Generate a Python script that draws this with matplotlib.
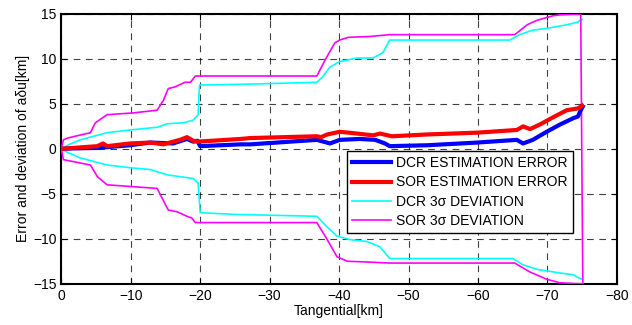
import matplotlib.pyplot as plt

plt.rcParams['font.family'] = ['Liberation Sans', 'DejaVu Sans']

# DCR estimation error
dcr_x = [0, -1.7, -5.2, -9.9, -12.8, -16.1, -18.1, -19.0, -19.6, -20.0, -25.8, -27.2,
         -36.8, -38.7, -40.1, -43.0, -45.2, -46.6, -47.3, -52.7, -59.9, -65.6, -66.5,
         -67.9, -69.9, -71.8, -73.7, -74.4, -74.8, -75.1]
dcr_err = [0, 0.05, 0.1, 0.4, 0.7, 0.6, 1.1, 0.8, 0.9, 0.3, 0.5, 0.5,
           1.0, 0.6, 1.0, 1.1, 1.0, 0.6, 0.3, 0.4, 0.7, 1.0, 0.6,
           1.0, 1.9, 2.7, 3.4, 3.6, 4.3, 4.7]

# SOR estimation error
sor_x = [0, -1.7, -5.2, -6.0, -6.6, -9.9, -12.8, -14.7, -16.1, -17.1, -18.1, -19.0,
         -19.6, -25.8, -27.2, -36.8, -37.4, -38.3, -40.1, -42.6, -44.9, -45.9, -47.6,
         -52.7, -59.9, -65.6, -66.5, -67.5, -68.9, -70.8, -72.8, -74.4, -75.0]
sor_err = [0, 0.1, 0.3, 0.6, 0.3, 0.6, 0.7, 0.5, 0.8, 1.0, 1.3, 0.9,
           0.8, 1.1, 1.2, 1.4, 1.3, 1.6, 1.9, 1.7, 1.5, 1.7, 1.4,
           1.6, 1.8, 2.1, 2.5, 2.2, 2.7, 3.5, 4.3, 4.5, 4.8]

# DCR 3-sigma deviation (upper / lower)
dcr_up_x = [0, -0.9, -2.7, -6.6, -9.9, -13.8, -15.3, -17.6, -19.0, -19.7, -19.9,
            -27.2, -36.8, -37.6, -38.7, -40.1, -42.6, -44.9, -46.3, -47.3, -64.6,
            -66.0, -67.9, -69.9, -72.8, -74.4, -74.7, -75.0]
dcr_up = [0, 0.4, 1.0, 1.8, 2.1, 2.4, 2.8, 2.9, 3.2, 3.8, 7.1,
          7.2, 7.4, 8.0, 9.1, 9.7, 10.1, 10.1, 10.7, 12.1, 12.1,
          12.7, 13.2, 13.4, 13.8, 14.1, 14.3, 14.4]
dcr_lo_x = [0, -0.9, -2.7, -6.6, -9.9, -12.8, -15.3, -19.0, -19.7, -20.0, -25.3,
            -36.8, -38.3, -39.7, -41.6, -44.0, -45.9, -47.3, -65.0, -66.5, -68.5,
            -71.8, -73.7, -74.4, -75.0]
dcr_lo = [0, -0.4, -1.0, -1.8, -2.1, -2.3, -2.9, -3.3, -3.8, -7.1, -7.3,
          -7.5, -8.7, -9.7, -10.1, -10.3, -10.9, -12.2, -12.2, -12.9, -13.4,
          -13.8, -14.0, -14.3, -14.5]

# SOR 3-sigma deviation (upper / lower)
sor_up_x = [0, -0.3, -0.9, -4.2, -4.9, -6.6, -10.4, -13.8, -14.7, -15.4, -16.4,
            -17.8, -18.6, -19.3, -36.8, -38.0, -39.4, -40.1, -41.3, -44.5, -47.3,
            -65.3, -67.1, -68.5, -70.8, -71.8, -74.8, -75.1]
sor_up = [0, 1.0, 1.2, 1.8, 2.9, 3.8, 4.0, 4.3, 5.4, 6.7, 6.9,
          7.4, 7.4, 8.1, 8.1, 9.9, 11.8, 12.1, 12.4, 12.5, 12.7,
          12.7, 13.8, 14.3, 14.8, 14.9, 15.0, -15.0]
sor_lo_x = [0, -0.3, -4.2, -5.2, -6.6, -13.8, -15.4, -16.7, -18.1, -18.8, -19.3,
            -36.8, -38.3, -39.7, -41.2, -44.5, -47.3, -65.3, -67.5, -69.9, -71.8,
            -74.7, -75.1]
sor_lo = [0, -1.2, -1.8, -3.1, -4.0, -4.4, -6.8, -7.0, -7.5, -7.7, -8.2,
          -8.2, -10.1, -12.0, -12.5, -12.6, -12.7, -12.7, -13.7, -14.5, -14.9,
          -15.0, -15.0]

fig, ax = plt.subplots(figsize=(6.32, 3.25), dpi=100)
fig.subplots_adjust(left=0.097, right=0.976, top=0.957, bottom=0.127)

ax.plot(dcr_x, dcr_err, color='#0000ff', lw=3, label='DCR ESTIMATION ERROR', zorder=4)
ax.plot(sor_x, sor_err, color='#ff0000', lw=3, label='SOR ESTIMATION ERROR', zorder=5)
ax.plot(dcr_up_x, dcr_up, color='#00ffff', lw=1.2, label='DCR 3σ DEVIATION', zorder=3)
ax.plot(dcr_lo_x, dcr_lo, color='#00ffff', lw=1.2, zorder=3)
ax.plot(sor_up_x, sor_up, color='#ff00ff', lw=1.2, label='SOR 3σ DEVIATION', zorder=3)
ax.plot(sor_lo_x, sor_lo, color='#ff00ff', lw=1.2, zorder=3)

ax.set_xlim(0, -80)
ax.set_ylim(-15, 15)
ax.set_xticks(range(0, -81, -10))
ax.set_yticks(range(-15, 16, 5))
ax.grid(True, color='black', linestyle=(0, (6, 5)), linewidth=0.8, alpha=0.75)
ax.tick_params(direction='in', top=True, right=True, labelsize=10, length=4)
for s in ax.spines.values():
    s.set_linewidth(1.5)

ax.set_xlabel('Tangential[km]', fontsize=10, labelpad=1)
ax.set_ylabel('Error and deviation of aδu[km]', fontsize=10, labelpad=2)

leg = ax.legend(loc='lower right', bbox_to_anchor=(0.933, 0.163), fontsize=10,
                fancybox=False, framealpha=1, edgecolor='black', handlelength=2.8,
                borderpad=0.35, labelspacing=0.38, handletextpad=0.4)
leg.get_frame().set_linewidth(1.0)

fig.savefig('out.png', dpi=100)
